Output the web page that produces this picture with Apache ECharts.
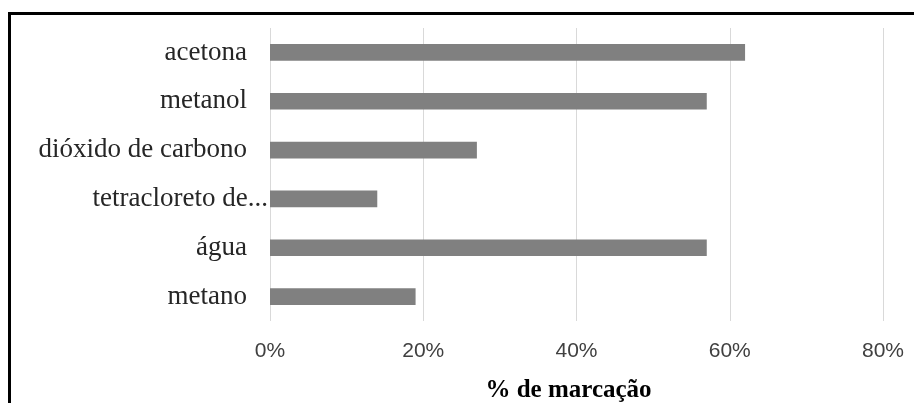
<!DOCTYPE html>
<html>
<head>
<meta charset="utf-8">
<script src="https://cdn.jsdelivr.net/npm/echarts@6/dist/echarts.min.js"></script>
<style>
  html, body { margin: 0; padding: 0; background: #fff; }
  #chart { position: absolute; left: 0; top: 0; width: 914px; height: 403px; }
  #frame {
    position: absolute; left: 8px; top: 12px; width: 930px; height: 420px;
    border: 3px solid #000; box-sizing: border-box; pointer-events: none;
  }
</style>
</head>
<body>
<div id="chart"></div>
<div id="frame"></div>
<script>
// Solvents, top to bottom
const categories = ['acetona', 'metanol', 'dióxido de carbono', 'tetracloreto de carbono', 'água', 'metano'];
// Share of answers marked (%)
const marked = [62, 57, 27, 14, 57, 19];
// Value axis ticks
const xTicks = [0, 20, 40, 60, 80];

const serif = '"Liberation Serif", "Times New Roman", serif';
const labelFont = { fontFamily: serif, fontSize: 27, color: '#262626' };
const chart = echarts.init(document.getElementById('chart'), null, { renderer: 'canvas' });

chart.setOption({
  animation: false,
  grid: { left: 270, right: 31, top: 28, bottom: 82, containLabel: false, outerBoundsMode: 'none' },
  xAxis: {
    type: 'value',
    min: xTicks[0],
    max: xTicks[xTicks.length - 1],
    interval: xTicks[1] - xTicks[0],
    axisLine: { show: false },
    axisTick: { show: false },
    splitLine: { show: true, lineStyle: { color: '#d9d9d9', width: 1 } },
    axisLabel: {
      formatter: '{value}%',
      fontFamily: '"Liberation Sans", Arial, sans-serif',
      fontSize: 21,
      color: '#404040',
      margin: 20
    },
    name: '% de marcação',
    nameLocation: 'middle',
    nameGap: 57,
    nameTextStyle: {
      fontFamily: serif, fontWeight: 'bold', fontSize: 25, color: '#000',
      padding: [0, 16, 0, 0]
    }
  },
  yAxis: {
    type: 'category',
    inverse: true,
    data: categories,
    axisLine: { show: false },
    axisTick: { show: false },
    axisLabel: Object.assign({
      margin: 2,
      formatter: function (v) {
        // long names are cut, with the ellipsis running up to the axis
        if (v.length > 18) return '{t|' + v.slice(0, 15) + '...}';
        return '{n|' + v + '}';
      },
      rich: {
        n: Object.assign({ padding: [0, 21, 0, 0] }, labelFont),
        t: Object.assign({}, labelFont)
      }
    }, labelFont)
  },
  series: [{
    type: 'bar',
    data: marked,
    barWidth: '34%',
    itemStyle: { color: '#808080' },
    silent: true
  }]
});
</script>
</body>
</html>
